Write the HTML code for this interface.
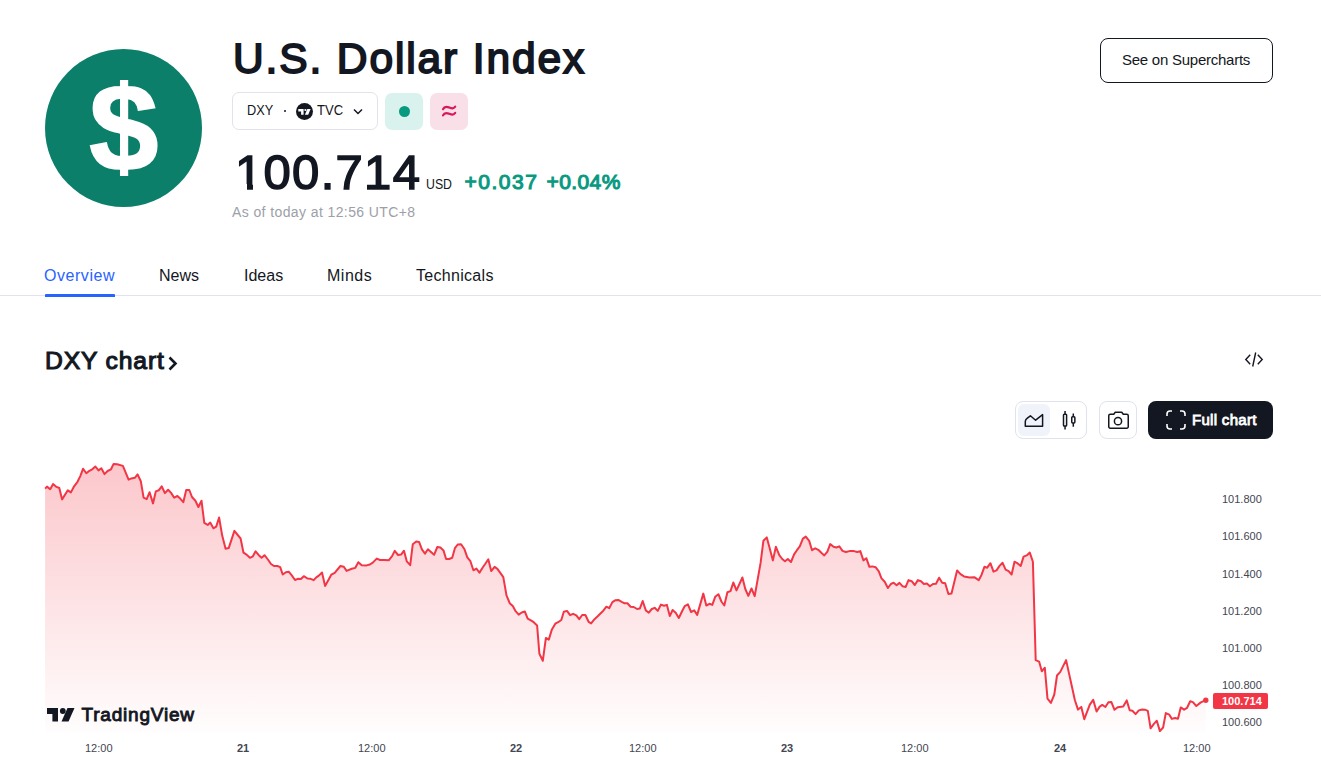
<!DOCTYPE html>
<html><head><meta charset="utf-8">
<style>
*{margin:0;padding:0;box-sizing:border-box}
html,body{width:1321px;height:776px;overflow:hidden;background:#fff}
body{font-family:"Liberation Sans",sans-serif;color:#131722;position:relative}
.a{position:absolute;white-space:nowrap}
.ax{position:absolute;font-size:11px;line-height:14px;color:#434651;white-space:nowrap}
</style></head><body>
<div class="a" style="left:45px;top:49px;width:157px;height:158px;border-radius:50%;background:#0b7f6a"></div>
<div class="a" id="dollar" style="left:89px;top:63px;font-size:125px;font-weight:bold;line-height:130px;color:#fff;-webkit-text-stroke:1.5px #fff">$</div>
<div class="a" style="left:110px;top:70px;width:30px;height:10px;background:#0b7f6a"></div><div class="a" style="left:110px;top:176px;width:30px;height:10px;background:#0b7f6a"></div>
<div class="a" id="title" style="left:233px;top:31px;font-size:42.5px;line-height:56px;letter-spacing:1.875px;-webkit-text-stroke:1.8px #131722">U.S. Dollar Index</div>
<div class="a" style="left:232px;top:92px;width:146px;height:38px;border:1px solid #e0e3eb;border-radius:7px"></div>
<div class="a" id="dxy" style="left:247px;top:100px;font-size:15px;line-height:20px;transform-origin:0 0;transform:scaleX(0.85)">DXY</div>
<div class="a" style="left:284px;top:110px;width:2px;height:2px;border-radius:50%;background:#131722"></div>
<svg class="a" style="left:296px;top:103px" width="17" height="17" viewBox="0 0 17 17"><circle cx="8.5" cy="8.5" r="8.5" fill="#131722"/>
<path d="M2.3 6.1h5.3v5.7h-2.5v-3.3h-2.8z" fill="#fff"/><circle cx="9.4" cy="7" r="1.1" fill="#fff"/><path d="M11.3 6.1H14.6L12.2 11.8H8.9Z" fill="#fff"/></svg>
<div class="a" id="tvc" style="left:317px;top:100px;font-size:15px;line-height:20px;transform-origin:0 0;transform:scaleX(0.87)">TVC</div>
<svg class="a" style="left:352px;top:106px" width="12" height="12" viewBox="0 0 12 12"><path d="M2 3.5l4 4 4-4" fill="none" stroke="#131722" stroke-width="1.5"/></svg>
<div class="a" style="left:385px;top:93px;width:38px;height:37px;border-radius:7px;background:#daf2ee"></div>
<div class="a" style="left:398.7px;top:105.6px;width:11.4px;height:11.4px;border-radius:50%;background:#089981"></div>
<div class="a" style="left:430px;top:93px;width:38px;height:37px;border-radius:7px;background:#f9dfe7"></div>
<svg class="a" style="left:440px;top:103px" width="18" height="16" viewBox="0 0 18 16"><path d="M3 6.2C4.1 3.9 6 3.4 8.8 4.4S13.3 6.2 15.2 3.6M3 12.4C4.1 10.1 6 9.6 8.8 10.6S13.3 12.4 15.2 9.8" fill="none" stroke="#d8175c" stroke-width="2.2" stroke-linecap="round"/></svg>
<div class="a" id="price" style="left:235px;top:142px;font-size:49px;line-height:60px;letter-spacing:1.3px;-webkit-text-stroke:1.5px #131722">100.714</div>
<div class="a" style="left:236px;top:184px;width:10.5px;height:6px;background:#fff"></div><div class="a" style="left:252.5px;top:184px;width:9.5px;height:6px;background:#fff"></div>
<div class="a" id="usd" style="left:426px;top:175px;font-size:15px;line-height:18px;transform-origin:0 0;transform:scaleX(0.82)">USD</div>
<div class="a" id="chg1" style="left:464.5px;top:169px;font-size:21px;line-height:26px;color:#089981;letter-spacing:1.5px;-webkit-text-stroke:1.1px #089981">+0.037</div>
<div class="a" id="chg2" style="left:546.5px;top:169px;font-size:21px;line-height:26px;color:#089981;letter-spacing:0.4px;-webkit-text-stroke:1.1px #089981">+0.04%</div>
<div class="a" id="asof" style="left:232px;top:203px;font-size:14px;line-height:18px;color:#9ca0a8;letter-spacing:0.4px">As of today at 12:56 UTC+8</div>
<div class="a" style="left:1100px;top:38px;width:173px;height:45px;border:1px solid #131722;border-radius:8px"></div>
<div class="a" id="sup" style="left:1122px;top:50px;font-size:15px;line-height:20px;letter-spacing:-0.25px">See on Supercharts</div>
<div class="a" id="t1" style="left:44px;top:266px;font-size:16px;line-height:20px;color:#2962ff;letter-spacing:0.55px">Overview</div>
<div class="a" id="t2" style="left:159px;top:266px;font-size:16px;line-height:20px">News</div>
<div class="a" id="t3" style="left:244px;top:266px;font-size:16px;line-height:20px">Ideas</div>
<div class="a" id="t4" style="left:327px;top:266px;font-size:16px;line-height:20px;letter-spacing:0.5px">Minds</div>
<div class="a" id="t5" style="left:416px;top:266px;font-size:16px;line-height:20px;letter-spacing:0.3px">Technicals</div>
<div class="a" style="left:0;top:295px;width:1321px;height:1px;background:#e0e3eb"></div>
<div class="a" style="left:45px;top:294px;width:70px;height:3px;border-radius:1px 1px 0 0;background:#2962ff"></div>
<div class="a" id="dxyc" style="left:45px;top:345.5px;font-size:24.7px;line-height:30px;letter-spacing:0.85px;-webkit-text-stroke:1.1px #131722">DXY chart</div>
<svg class="a" style="left:166px;top:353.5px" width="14" height="18" viewBox="0 0 14 18"><path d="M3.5 3.5l6 6-6 6" fill="none" stroke="#131722" stroke-width="2.6"/></svg>
<svg class="a" style="left:1242px;top:349px" width="24" height="20" viewBox="0 0 24 20"><path d="M8.2 5.8L3.8 10.5L8.2 15.2M15.8 5.8L20.2 10.5L15.8 15.2M13.7 3.5l-3 14" fill="none" stroke="#131722" stroke-width="1.4"/></svg>
<div class="a" style="left:1015px;top:401px;width:72px;height:38px;border:1px solid #e0e3eb;border-radius:8px"></div>
<div class="a" style="left:1018px;top:404px;width:32px;height:32px;border-radius:6px;background:#f0f3fa"></div>
<svg class="a" style="left:1018px;top:404px" width="32" height="32" viewBox="0 0 32 32"><path d="M7.3 22.2V17.6Q7.3 15.6 9 14.4L12.4 11.8L17.6 16.2L24.6 10.6V22.2Z" fill="none" stroke="#131722" stroke-width="1.5" stroke-linejoin="round"/></svg>
<svg class="a" style="left:1054px;top:404px" width="32" height="32" viewBox="0 0 32 32"><path d="M11.05 7v3.2M11.05 22.1v3.3M19.3 9.5v3.2M19.3 18.9v3.9" stroke="#131722" stroke-width="1.5"/><rect x="9.5" y="10.2" width="3.1" height="11.9" rx="0.8" fill="none" stroke="#131722" stroke-width="1.5"/><rect x="17.75" y="12.7" width="3.1" height="6.2" rx="0.8" fill="none" stroke="#131722" stroke-width="1.5"/></svg>
<div class="a" style="left:1099px;top:401px;width:38px;height:38px;border:1px solid #e0e3eb;border-radius:8px"></div>
<svg class="a" style="left:1099px;top:401px" width="38" height="38" viewBox="0 0 38 38"><path d="M9.75 14.75a1.5 1.5 0 0 1 1.5-1.5h3.5l1.5-2h6.5l1.5 2h3.5a1.5 1.5 0 0 1 1.5 1.5v11a1.5 1.5 0 0 1-1.5 1.5h-16.5a1.5 1.5 0 0 1-1.5-1.5z" fill="none" stroke="#131722" stroke-width="1.5" stroke-linejoin="round"/><circle cx="19" cy="20.2" r="3.6" fill="none" stroke="#131722" stroke-width="1.5"/></svg>
<div class="a" style="left:1148px;top:401px;width:125px;height:38px;border-radius:8px;background:#131722"></div>
<svg class="a" style="left:1164px;top:408px" width="24" height="24" viewBox="0 0 24 24"><path d="M3 8V6a3 3 0 0 1 3-3h2M16 3h2a3 3 0 0 1 3 3v2M21 16v2a3 3 0 0 1-3 3h-2M8 21H6a3 3 0 0 1-3-3v-2" fill="none" stroke="#fff" stroke-width="1.6"/></svg>
<div class="a" id="full" style="left:1192px;top:410px;font-size:15px;line-height:20px;color:#fff;letter-spacing:0.3px;-webkit-text-stroke:0.8px #fff">Full chart</div>
<svg class="a" style="left:0;top:0" width="1321" height="776" viewBox="0 0 1321 776">
<defs><linearGradient id="g" x1="0" y1="463" x2="0" y2="732" gradientUnits="userSpaceOnUse">
<stop offset="0" stop-color="#f23645" stop-opacity="0.28"/><stop offset="1" stop-color="#f23645" stop-opacity="0.01"/></linearGradient></defs>
<path d="M45.1 488.6 L47.0 486.6 L50.2 489.2 L53.1 484.1 L56.5 486.9 L59.3 488.0 L62.1 499.4 L67.8 490.3 L70.9 492.4 L74.1 486.3 L77.5 481.8 L80.3 476.1 L83.1 468.7 L86.3 473.3 L89.4 470.8 L92.2 469.3 L95.4 466.5 L98.5 470.4 L101.3 468.2 L104.5 474.1 L107.6 471.0 L111.0 469.3 L113.6 463.9 L117.2 464.2 L122.9 465.9 L128.6 479.7 L131.4 478.4 L134.8 477.8 L137.6 474.4 L140.8 481.2 L143.6 497.7 L146.7 499.1 L149.6 492.2 L153.0 503.4 L155.8 491.4 L158.7 490.3 L161.7 486.3 L164.9 493.1 L168.1 489.7 L171.1 492.9 L174.2 497.7 L177.4 496.0 L180.2 498.6 L183.3 502.2 L186.2 490.0 L189.3 490.0 L192.0 497.0 L195.4 500.7 L198.4 507.0 L201.5 500.7 L204.3 522.9 L207.7 524.9 L210.2 522.6 L213.4 528.3 L216.2 526.6 L219.1 517.5 L222.2 535.6 L225.6 548.7 L228.7 548.1 L234.4 530.9 L240.6 538.5 L243.5 552.7 L246.9 554.9 L249.9 557.8 L252.9 556.3 L255.6 551.3 L258.8 555.2 L261.6 557.8 L264.5 555.2 L267.9 559.5 L271.0 564.0 L274.0 566.0 L277.4 566.0 L280.2 567.1 L282.7 574.5 L285.9 572.2 L288.7 571.7 L291.6 575.1 L295.0 580.0 L297.8 578.8 L300.9 579.0 L303.8 576.2 L307.5 578.5 L310.6 578.8 L313.7 580.2 L316.3 577.3 L318.8 575.6 L322.0 572.5 L325.1 585.9 L331.3 574.7 L334.7 572.8 L340.4 566.0 L343.8 566.8 L346.6 570.9 L351.8 568.8 L355.2 567.9 L358.3 562.2 L361.7 565.2 L366.5 565.4 L369.9 564.5 L372.8 562.6 L376.7 558.6 L380.1 560.0 L384.7 560.0 L388.7 560.3 L392.1 556.1 L394.7 550.9 L398.1 555.0 L401.1 554.6 L404.0 550.7 L406.8 561.4 L410.2 565.2 L412.8 544.2 L416.2 541.4 L419.1 541.9 L421.9 549.3 L425.0 553.6 L427.9 549.3 L431.0 552.1 L434.1 554.8 L437.3 547.0 L440.4 547.6 L443.5 550.4 L446.1 559.0 L449.2 559.0 L452.2 557.8 L454.9 548.2 L457.7 544.5 L461.1 544.2 L464.5 549.3 L467.3 557.3 L470.4 561.2 L473.4 570.3 L476.4 568.6 L479.5 572.6 L482.7 567.5 L485.5 563.5 L488.3 559.3 L491.2 571.1 L494.6 566.9 L497.4 568.8 L500.3 572.9 L503.3 577.1 L506.5 595.3 L509.7 603.2 L512.8 606.1 L515.6 611.2 L518.7 614.6 L521.7 612.5 L524.8 611.5 L527.7 618.6 L530.9 620.3 L533.7 622.2 L537.1 625.4 L539.4 653.8 L542.8 660.8 L545.9 637.9 L548.8 639.6 L551.9 629.4 L555.3 623.7 L558.1 622.2 L561.3 620.0 L563.8 611.8 L567.0 610.9 L570.1 615.2 L573.1 613.8 L576.3 615.4 L579.2 619.2 L582.2 615.0 L585.4 615.0 L588.6 621.8 L591.1 623.4 L594.5 619.2 L597.7 616.3 L600.2 613.8 L603.3 610.7 L606.4 606.7 L609.2 608.2 L612.4 602.1 L615.5 600.2 L618.3 599.9 L621.7 601.8 L624.6 603.3 L627.4 603.3 L630.6 606.7 L633.7 607.0 L637.1 609.0 L639.9 608.4 L642.7 601.0 L645.8 610.4 L648.8 612.7 L651.8 609.0 L654.7 607.8 L657.8 610.9 L660.9 604.6 L664.1 605.8 L666.9 604.9 L669.8 616.1 L672.6 610.0 L675.7 612.7 L678.8 618.0 L682.3 610.8 L684.7 606.1 L687.9 604.4 L691.1 612.0 L694.2 610.4 L697.2 614.9 L703.3 593.6 L706.3 605.5 L709.5 603.8 L712.3 604.9 L715.2 596.8 L718.4 594.2 L721.4 601.5 L724.3 605.5 L727.4 592.2 L730.5 591.1 L733.3 582.5 L736.5 590.4 L742.4 577.5 L745.3 589.0 L748.3 595.9 L751.5 588.5 L754.7 596.1 L760.6 562.9 L763.4 540.8 L766.8 537.4 L769.7 548.2 L772.9 560.4 L775.9 546.8 L779.3 555.2 L782.2 559.0 L785.0 561.2 L787.8 559.0 L791.0 562.0 L794.1 554.4 L796.9 550.2 L799.8 546.3 L802.9 538.6 L805.8 536.6 L809.2 540.9 L812.0 550.2 L815.2 548.3 L818.3 549.8 L821.3 552.8 L824.3 555.4 L827.4 551.7 L830.2 544.1 L833.6 546.8 L836.4 547.5 L839.3 546.3 L842.5 550.9 L845.9 552.0 L849.5 551.1 L854.0 551.1 L857.2 552.0 L860.3 551.1 L863.4 560.4 L866.3 558.2 L869.4 566.8 L872.4 566.4 L875.6 567.2 L878.8 571.3 L881.5 578.4 L884.7 581.8 L887.9 588.0 L890.9 584.0 L893.6 582.7 L896.6 585.2 L899.5 582.9 L902.6 586.3 L905.7 586.9 L908.5 580.1 L911.7 581.2 L914.8 585.0 L917.9 580.1 L921.0 581.2 L923.9 584.0 L926.9 583.5 L929.9 586.3 L933.0 584.0 L936.0 583.8 L939.1 577.7 L942.2 582.7 L945.2 583.3 L948.4 594.0 L951.5 593.5 L957.1 570.4 L960.5 574.2 L964.0 576.4 L969.6 577.6 L974.2 577.2 L978.7 580.2 L981.6 574.7 L984.4 566.8 L987.2 567.7 L990.4 563.2 L993.5 571.6 L996.5 570.4 L999.5 565.9 L1002.6 562.8 L1005.6 569.6 L1008.6 571.1 L1011.6 574.5 L1014.5 561.7 L1017.7 563.4 L1020.7 565.9 L1023.6 556.6 L1026.7 555.4 L1029.8 552.6 L1032.9 561.7 L1035.7 660.2 L1039.1 661.6 L1041.8 671.3 L1044.8 667.7 L1047.5 698.7 L1050.9 702.9 L1054.3 694.5 L1057.0 675.5 L1060.3 671.9 L1066.1 660.1 L1074.9 700.2 L1078.0 709.6 L1081.3 706.9 L1084.3 719.2 L1089.8 704.7 L1093.2 699.9 L1096.6 711.5 L1099.7 706.6 L1102.3 704.9 L1105.4 707.0 L1108.4 702.3 L1111.4 702.1 L1114.5 709.8 L1117.7 707.3 L1123.2 706.6 L1126.7 700.4 L1129.7 710.3 L1132.4 710.8 L1135.6 714.1 L1138.8 710.4 L1142.2 709.5 L1144.9 709.7 L1147.8 710.9 L1150.6 728.3 L1153.7 724.1 L1156.8 720.7 L1159.9 731.1 L1163.1 727.5 L1165.8 713.1 L1169.3 714.7 L1171.9 718.9 L1175.0 718.0 L1178.0 718.8 L1180.7 707.4 L1184.1 709.7 L1187.1 707.8 L1190.2 701.3 L1192.9 702.1 L1196.3 706.0 L1200.8 702.4 L1205.8 700.2 L1205.8 732.5 L45.1 732.5 Z" fill="url(#g)"/>
<path d="M45.1 488.6 L47.0 486.6 L50.2 489.2 L53.1 484.1 L56.5 486.9 L59.3 488.0 L62.1 499.4 L67.8 490.3 L70.9 492.4 L74.1 486.3 L77.5 481.8 L80.3 476.1 L83.1 468.7 L86.3 473.3 L89.4 470.8 L92.2 469.3 L95.4 466.5 L98.5 470.4 L101.3 468.2 L104.5 474.1 L107.6 471.0 L111.0 469.3 L113.6 463.9 L117.2 464.2 L122.9 465.9 L128.6 479.7 L131.4 478.4 L134.8 477.8 L137.6 474.4 L140.8 481.2 L143.6 497.7 L146.7 499.1 L149.6 492.2 L153.0 503.4 L155.8 491.4 L158.7 490.3 L161.7 486.3 L164.9 493.1 L168.1 489.7 L171.1 492.9 L174.2 497.7 L177.4 496.0 L180.2 498.6 L183.3 502.2 L186.2 490.0 L189.3 490.0 L192.0 497.0 L195.4 500.7 L198.4 507.0 L201.5 500.7 L204.3 522.9 L207.7 524.9 L210.2 522.6 L213.4 528.3 L216.2 526.6 L219.1 517.5 L222.2 535.6 L225.6 548.7 L228.7 548.1 L234.4 530.9 L240.6 538.5 L243.5 552.7 L246.9 554.9 L249.9 557.8 L252.9 556.3 L255.6 551.3 L258.8 555.2 L261.6 557.8 L264.5 555.2 L267.9 559.5 L271.0 564.0 L274.0 566.0 L277.4 566.0 L280.2 567.1 L282.7 574.5 L285.9 572.2 L288.7 571.7 L291.6 575.1 L295.0 580.0 L297.8 578.8 L300.9 579.0 L303.8 576.2 L307.5 578.5 L310.6 578.8 L313.7 580.2 L316.3 577.3 L318.8 575.6 L322.0 572.5 L325.1 585.9 L331.3 574.7 L334.7 572.8 L340.4 566.0 L343.8 566.8 L346.6 570.9 L351.8 568.8 L355.2 567.9 L358.3 562.2 L361.7 565.2 L366.5 565.4 L369.9 564.5 L372.8 562.6 L376.7 558.6 L380.1 560.0 L384.7 560.0 L388.7 560.3 L392.1 556.1 L394.7 550.9 L398.1 555.0 L401.1 554.6 L404.0 550.7 L406.8 561.4 L410.2 565.2 L412.8 544.2 L416.2 541.4 L419.1 541.9 L421.9 549.3 L425.0 553.6 L427.9 549.3 L431.0 552.1 L434.1 554.8 L437.3 547.0 L440.4 547.6 L443.5 550.4 L446.1 559.0 L449.2 559.0 L452.2 557.8 L454.9 548.2 L457.7 544.5 L461.1 544.2 L464.5 549.3 L467.3 557.3 L470.4 561.2 L473.4 570.3 L476.4 568.6 L479.5 572.6 L482.7 567.5 L485.5 563.5 L488.3 559.3 L491.2 571.1 L494.6 566.9 L497.4 568.8 L500.3 572.9 L503.3 577.1 L506.5 595.3 L509.7 603.2 L512.8 606.1 L515.6 611.2 L518.7 614.6 L521.7 612.5 L524.8 611.5 L527.7 618.6 L530.9 620.3 L533.7 622.2 L537.1 625.4 L539.4 653.8 L542.8 660.8 L545.9 637.9 L548.8 639.6 L551.9 629.4 L555.3 623.7 L558.1 622.2 L561.3 620.0 L563.8 611.8 L567.0 610.9 L570.1 615.2 L573.1 613.8 L576.3 615.4 L579.2 619.2 L582.2 615.0 L585.4 615.0 L588.6 621.8 L591.1 623.4 L594.5 619.2 L597.7 616.3 L600.2 613.8 L603.3 610.7 L606.4 606.7 L609.2 608.2 L612.4 602.1 L615.5 600.2 L618.3 599.9 L621.7 601.8 L624.6 603.3 L627.4 603.3 L630.6 606.7 L633.7 607.0 L637.1 609.0 L639.9 608.4 L642.7 601.0 L645.8 610.4 L648.8 612.7 L651.8 609.0 L654.7 607.8 L657.8 610.9 L660.9 604.6 L664.1 605.8 L666.9 604.9 L669.8 616.1 L672.6 610.0 L675.7 612.7 L678.8 618.0 L682.3 610.8 L684.7 606.1 L687.9 604.4 L691.1 612.0 L694.2 610.4 L697.2 614.9 L703.3 593.6 L706.3 605.5 L709.5 603.8 L712.3 604.9 L715.2 596.8 L718.4 594.2 L721.4 601.5 L724.3 605.5 L727.4 592.2 L730.5 591.1 L733.3 582.5 L736.5 590.4 L742.4 577.5 L745.3 589.0 L748.3 595.9 L751.5 588.5 L754.7 596.1 L760.6 562.9 L763.4 540.8 L766.8 537.4 L769.7 548.2 L772.9 560.4 L775.9 546.8 L779.3 555.2 L782.2 559.0 L785.0 561.2 L787.8 559.0 L791.0 562.0 L794.1 554.4 L796.9 550.2 L799.8 546.3 L802.9 538.6 L805.8 536.6 L809.2 540.9 L812.0 550.2 L815.2 548.3 L818.3 549.8 L821.3 552.8 L824.3 555.4 L827.4 551.7 L830.2 544.1 L833.6 546.8 L836.4 547.5 L839.3 546.3 L842.5 550.9 L845.9 552.0 L849.5 551.1 L854.0 551.1 L857.2 552.0 L860.3 551.1 L863.4 560.4 L866.3 558.2 L869.4 566.8 L872.4 566.4 L875.6 567.2 L878.8 571.3 L881.5 578.4 L884.7 581.8 L887.9 588.0 L890.9 584.0 L893.6 582.7 L896.6 585.2 L899.5 582.9 L902.6 586.3 L905.7 586.9 L908.5 580.1 L911.7 581.2 L914.8 585.0 L917.9 580.1 L921.0 581.2 L923.9 584.0 L926.9 583.5 L929.9 586.3 L933.0 584.0 L936.0 583.8 L939.1 577.7 L942.2 582.7 L945.2 583.3 L948.4 594.0 L951.5 593.5 L957.1 570.4 L960.5 574.2 L964.0 576.4 L969.6 577.6 L974.2 577.2 L978.7 580.2 L981.6 574.7 L984.4 566.8 L987.2 567.7 L990.4 563.2 L993.5 571.6 L996.5 570.4 L999.5 565.9 L1002.6 562.8 L1005.6 569.6 L1008.6 571.1 L1011.6 574.5 L1014.5 561.7 L1017.7 563.4 L1020.7 565.9 L1023.6 556.6 L1026.7 555.4 L1029.8 552.6 L1032.9 561.7 L1035.7 660.2 L1039.1 661.6 L1041.8 671.3 L1044.8 667.7 L1047.5 698.7 L1050.9 702.9 L1054.3 694.5 L1057.0 675.5 L1060.3 671.9 L1066.1 660.1 L1074.9 700.2 L1078.0 709.6 L1081.3 706.9 L1084.3 719.2 L1089.8 704.7 L1093.2 699.9 L1096.6 711.5 L1099.7 706.6 L1102.3 704.9 L1105.4 707.0 L1108.4 702.3 L1111.4 702.1 L1114.5 709.8 L1117.7 707.3 L1123.2 706.6 L1126.7 700.4 L1129.7 710.3 L1132.4 710.8 L1135.6 714.1 L1138.8 710.4 L1142.2 709.5 L1144.9 709.7 L1147.8 710.9 L1150.6 728.3 L1153.7 724.1 L1156.8 720.7 L1159.9 731.1 L1163.1 727.5 L1165.8 713.1 L1169.3 714.7 L1171.9 718.9 L1175.0 718.0 L1178.0 718.8 L1180.7 707.4 L1184.1 709.7 L1187.1 707.8 L1190.2 701.3 L1192.9 702.1 L1196.3 706.0 L1200.8 702.4 L1205.8 700.2" fill="none" stroke="#f23645" stroke-width="2" stroke-linejoin="round"/>
<circle cx="1205.8" cy="700.2" r="2.7" fill="#f23645"/>
<rect x="1213" y="693" width="55" height="16" rx="2" fill="#f23645"/>
</svg>
<div class="ax" style="left:1222px;top:492px">101.800</div>
<div class="ax" style="left:1222px;top:529px">101.600</div>
<div class="ax" style="left:1222px;top:567px">101.400</div>
<div class="ax" style="left:1222px;top:604px">101.200</div>
<div class="ax" style="left:1222px;top:641px">101.000</div>
<div class="ax" style="left:1222px;top:678px">100.800</div>
<div class="ax" style="left:1222px;top:715px">100.600</div>
<div class="ax" id="plab" style="left:1222px;top:694px;color:#fff;font-weight:bold">100.714</div>
<div class="ax" style="left:85px;top:741px">12:00</div>
<div class="ax" style="left:237px;top:741px;font-weight:bold">21</div>
<div class="ax" style="left:358px;top:741px">12:00</div>
<div class="ax" style="left:510px;top:741px;font-weight:bold">22</div>
<div class="ax" style="left:629px;top:741px">12:00</div>
<div class="ax" style="left:781px;top:741px;font-weight:bold">23</div>
<div class="ax" style="left:901px;top:741px">12:00</div>
<div class="ax" style="left:1054px;top:741px;font-weight:bold">24</div>
<div class="ax" style="left:1183px;top:741px">12:00</div>
<svg class="a" style="left:47px;top:707px" width="28" height="15" viewBox="0 0 28 15"><path d="M0 1h11v13.6h-5.6v-7.6h-5.4z" fill="#131722"/><circle cx="15.8" cy="4" r="2.9" fill="#131722"/><path d="M20.5 1h7l-6 13.6h-7z" fill="#131722"/></svg>
<div class="a" id="tvtext" style="left:81.5px;top:703.5px;font-size:19px;line-height:22px;letter-spacing:0.8px;-webkit-text-stroke:0.9px #131722">TradingView</div>
</body></html>
